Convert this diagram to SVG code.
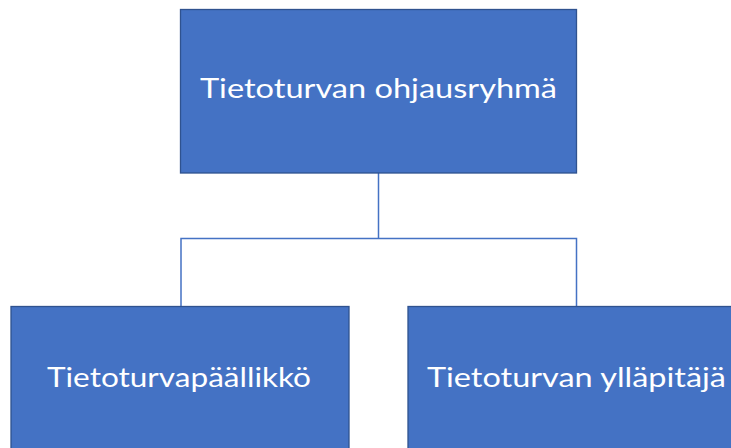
<svg xmlns="http://www.w3.org/2000/svg" width="731" height="448" viewBox="0 0 731 448">
<style>
.box{fill:#4472C4;stroke:#2F528F;stroke-width:1.3}
.lbl{font-family:Lato,"Liberation Sans",sans-serif;font-size:26px;fill:#FFFFFF;text-anchor:middle}
.conn{fill:none;stroke:#4472C4;stroke-width:1.5}
</style>
<rect width="731" height="448" fill="#FFFFFF"/>
<g id="connectors">
<path class="conn" d="M378.5,173 V238.5 M181,306.5 V238.5 H576.5 V306.5"/>
</g>
<g id="node-top">
<rect class="box" x="180.5" y="9.5" width="396" height="163.5"/>
<text class="lbl" x="378.5" y="98" textLength="357" lengthAdjust="spacingAndGlyphs">Tietoturvan ohjausryhmä</text>
</g>
<g id="node-left">
<rect class="box" x="11" y="306.5" width="338" height="170"/>
<text class="lbl" x="179" y="387" textLength="264" lengthAdjust="spacingAndGlyphs">Tietoturvapäällikkö</text>
</g>
<g id="node-right">
<rect class="box" x="408" y="306.5" width="338" height="170"/>
<text class="lbl" x="576.5" y="387" textLength="299" lengthAdjust="spacingAndGlyphs">Tietoturvan ylläpitäjä</text>
</g>
</svg>
